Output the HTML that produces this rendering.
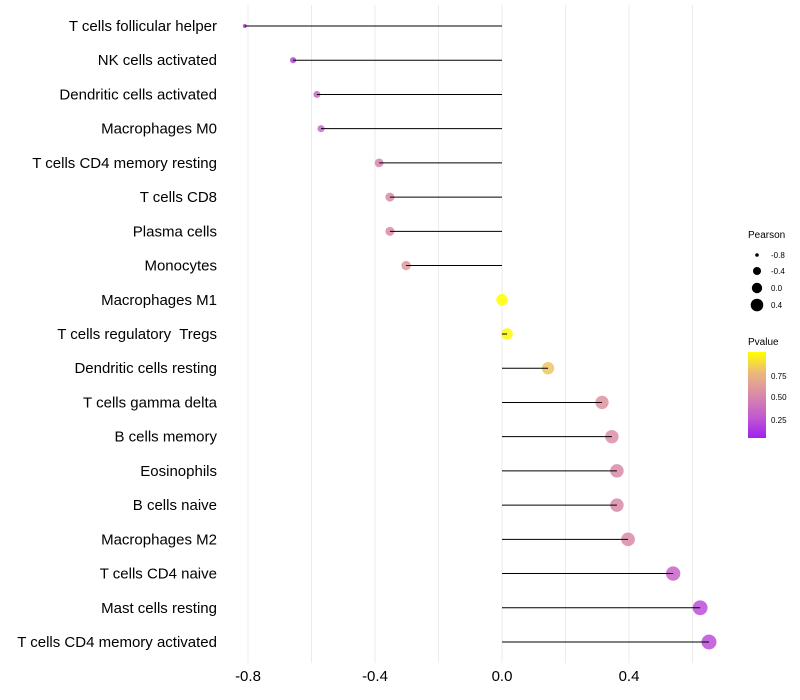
<!DOCTYPE html>
<html><head><meta charset="utf-8"><style>
body{margin:0;background:#fff;}
svg{display:block;font-family:"Liberation Sans",sans-serif;}
</style></head><body>
<svg id="chart" width="800" height="700">
<defs>
<linearGradient id="pg" x1="0" y1="1" x2="0" y2="0">
<stop offset="0" stop-color="#a020f0"/><stop offset="0.25" stop-color="#c25bd0"/>
<stop offset="0.5" stop-color="#d98aa8"/><stop offset="0.75" stop-color="#ebb67e"/>
<stop offset="1" stop-color="#ffff00"/></linearGradient>
</defs>
<g id="grid"></g><g id="pts"></g><g id="segs"></g><g id="ylab"></g><g id="xlab"></g>
<g>
<text x="748" y="238" font-size="10" fill="#000">Pearson</text>
<circle cx="757" cy="255" r="1.8" fill="#000"/><text x="771" y="258" font-size="8">-0.8</text>
<circle cx="757" cy="271" r="4" fill="#000"/><text x="771" y="274" font-size="8">-0.4</text>
<circle cx="757" cy="288" r="5.2" fill="#000"/><text x="771" y="291" font-size="8">0.0</text>
<circle cx="757" cy="305" r="6.3" fill="#000"/><text x="771" y="308" font-size="8">0.4</text>
</g>
<g>
<text x="748" y="345" font-size="10">Pvalue</text>
<rect x="748" y="352" width="18" height="86" fill="url(#pg)"/>
<text x="771" y="379" font-size="8">0.75</text>
<text x="771" y="400" font-size="8">0.50</text>
<text x="771" y="423" font-size="8">0.25</text>
</g>
</svg>
<script>
const categories=["T cells follicular helper","NK cells activated","Dendritic cells activated","Macrophages M0","T cells CD4 memory resting","T cells CD8","Plasma cells","Monocytes","Macrophages M1","T cells regulatory  Tregs","Dendritic cells resting","T cells gamma delta","B cells memory","Eosinophils","B cells naive","Macrophages M2","T cells CD4 naive","Mast cells resting","T cells CD4 memory activated"];
const pearson=[-0.81,-0.658,-0.583,-0.57,-0.387,-0.353,-0.353,-0.302,0.0,0.016,0.145,0.315,0.346,0.362,0.362,0.397,0.539,0.624,0.652];
const pvalues=[0.08,0.15,0.3,0.32,0.47,0.5,0.5,0.58,1.0,0.98,0.8,0.55,0.52,0.5,0.5,0.5,0.3,0.2,0.2];
const xTicks=[-0.8,-0.4,0.0,0.4];
const xGrid=[-0.8,-0.6,-0.4,-0.2,0,0.2,0.4,0.6];
const NS="http://www.w3.org/2000/svg";
const x=v=>502+v*317.5;
const y=i=>26+i*(616/18);
const rad=v=>Math.sqrt(4+(v+0.81)*35.6);
function lerp(a,b,t){return Math.round(a+(b-a)*t);}
const stops=[[0,[160,32,240]],[0.25,[194,91,208]],[0.5,[217,138,168]],[0.75,[235,182,126]],[1,[255,255,0]]];
function col(p){p=Math.max(0,Math.min(1,p));for(let k=1;k<stops.length;k++){if(p<=stops[k][0]){const a=stops[k-1],b=stops[k];const t=(p-a[0])/(b[0]-a[0]);return `rgb(${lerp(a[1][0],b[1][0],t)},${lerp(a[1][1],b[1][1],t)},${lerp(a[1][2],b[1][2],t)})`;}}return "rgb(255,255,0)";}
function mk(t,attrs,parent){const e=document.createElementNS(NS,t);for(const k in attrs)e.setAttribute(k,attrs[k]);document.getElementById(parent).appendChild(e);return e;}
xGrid.forEach(v=>{const l=mk("line",{x1:x(v),x2:x(v),y1:5,y2:663,stroke:"#ebebeb","stroke-width":1},"grid");

});
xTicks.forEach(v=>{const t=mk("text",{x:x(v),y:681,"font-size":15,"text-anchor":"middle",fill:"#000"},"xlab");t.textContent=(v<0?"-":"")+Math.abs(v).toFixed(1);

});
categories.forEach((c,i)=>{
const p=mk("circle",{cx:x(pearson[i]),cy:y(i),r:rad(pearson[i]),fill:col(pvalues[i]),"fill-opacity":0.85},"pts");


const s=mk("line",{x1:x(0),x2:x(pearson[i]),y1:y(i),y2:y(i),stroke:"#000","stroke-width":1},"segs");


const t=mk("text",{x:217,y:y(i)+5,"font-size":15,"text-anchor":"end",fill:"#000",style:"white-space:pre"},"ylab");t.textContent=c;


});
</script>
</body></html>
